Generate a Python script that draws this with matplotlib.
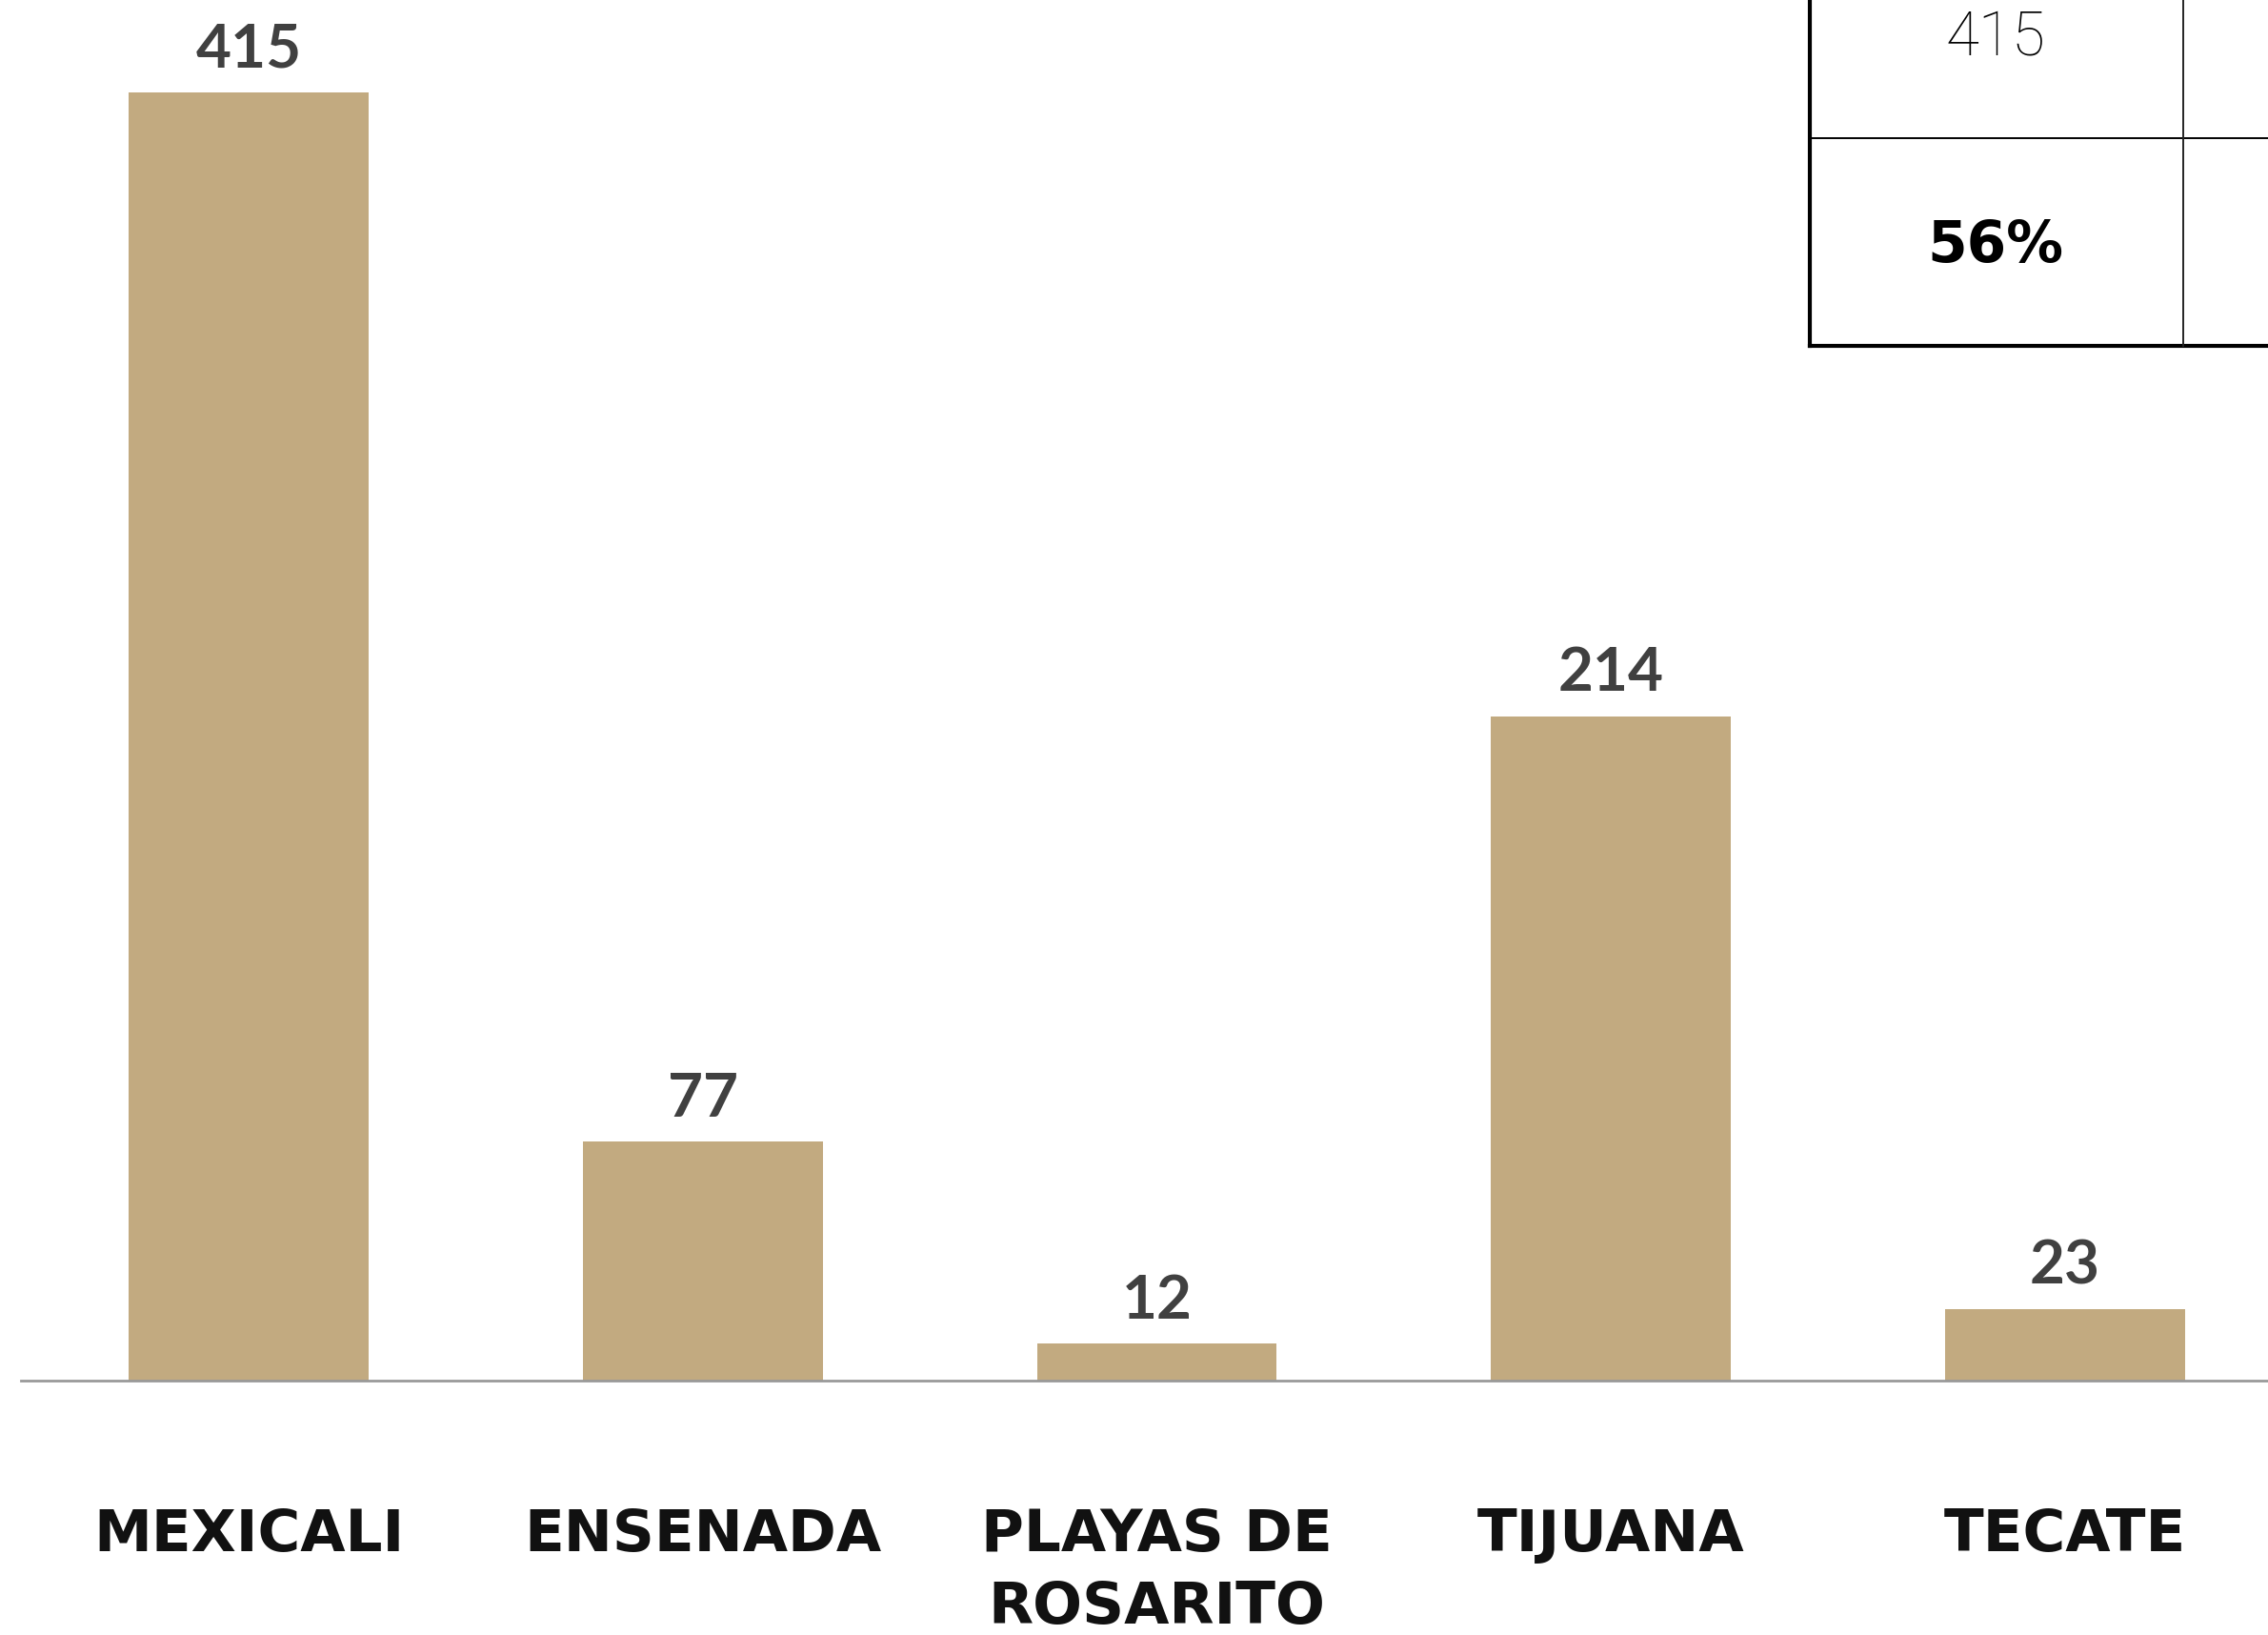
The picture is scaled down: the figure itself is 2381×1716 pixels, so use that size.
import matplotlib
matplotlib.use("Agg")
import matplotlib.pyplot as plt
from matplotlib.lines import Line2D

categories = ["MEXICALI", "ENSENADA", "PLAYAS DE\nROSARITO", "TIJUANA", "TECATE"]
values = [415, 77, 12, 214, 23]
table_value = "415"
table_pct = "56%"

W, H = 2381, 1716
DPI = 100
fig = plt.figure(figsize=(W / DPI, H / DPI), dpi=DPI)

base_px = 1449
left_px = 22
ax = fig.add_axes([left_px / W, (H - base_px) / H, 1 - left_px / W, base_px / H])
x = list(range(len(categories)))
bars = ax.bar(x, values, width=0.528, color="#C2AA80", zorder=2)
ax.set_xlim(-(261 - left_px) / 476.7, 4.447)
ax.set_ylim(0, 444.7)

for s in ["top", "right", "left"]:
    ax.spines[s].set_visible(False)
ax.spines["bottom"].set_color("#999999")
ax.spines["bottom"].set_linewidth(2.0)
ax.set_yticks([])
ax.set_xticks(x)
ax.set_xticklabels(categories, fontsize=44, fontweight="bold", color="#111111",
                   linespacing=1.36, va="top")
ax.tick_params(axis="x", length=0, pad=96)

for xi, v in zip(x, values):
    ax.annotate(str(v), (xi, v), xytext=(0, 19), textcoords="offset points",
                ha="center", va="baseline", fontsize=46, fontweight="bold",
                family=["Lato", "DejaVu Sans"], color="#404040")

# table fragment at top right
def fline(x0, y0, x1, y1, lw, color="black"):
    fig.add_artist(Line2D([x0 / W, x1 / W], [1 - y0 / H, 1 - y1 / H],
                          transform=fig.transFigure, color=color, lw=lw,
                          solid_capstyle="projecting"))

fline(1900, 0, 1900, 363, 3.0)
fline(1900, 363, W, 363, 3.0)
fline(1900, 145, W, 145, 1.4)
fline(2292, 0, 2292, 363, 1.4, "#222222")

fig.text(2095 / W, 1 - 40 / H, table_value, ha="center", va="center",
         fontsize=46, fontweight="light", family=["Roboto", "DejaVu Sans"],
         color="black")
fig.text(2095 / W, 1 - 258 / H, table_pct, ha="center", va="center",
         fontsize=43, fontweight="bold", color="black")

fig.savefig("out.png", dpi=DPI)
